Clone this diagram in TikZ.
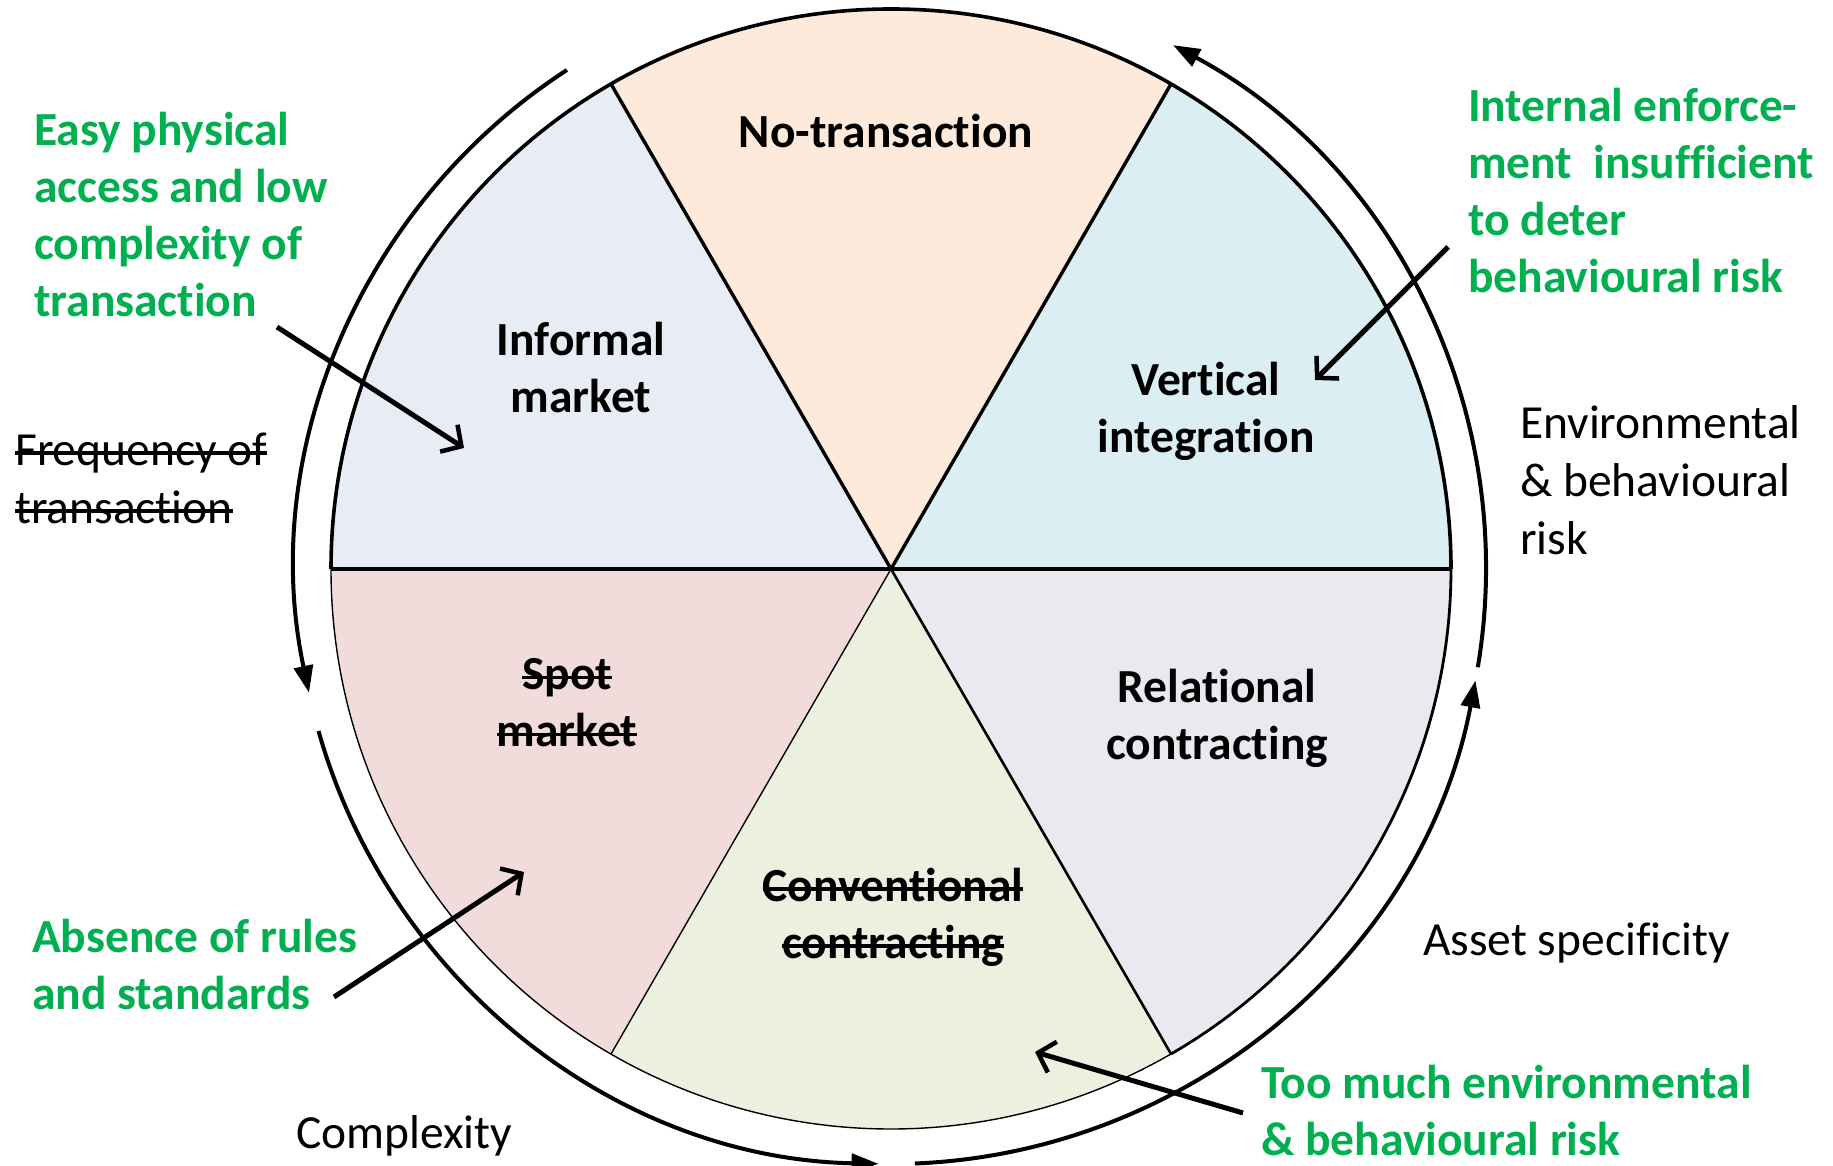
\documentclass[tikz,border=0pt]{standalone}
\usepackage{fontspec}
\setmainfont{Carlito}[Ligatures=NoCommon]
\usetikzlibrary{arrows.meta}
\definecolor{cNo}{HTML}{FDEADA}
\definecolor{cVI}{HTML}{DAEEF3}
\definecolor{cIM}{HTML}{E8EDF5}
\definecolor{cSM}{HTML}{F2DCDB}
\definecolor{cCC}{HTML}{EBF1DE}
\definecolor{cRC}{HTML}{EBE8F0}
\definecolor{grn}{HTML}{00B050}
\newcommand\strk[1]{\setbox0\hbox{#1}\rlap{\rule[0.22em]{\wd0}{0.07em}}\box0}
\begin{document}
\begin{tikzpicture}[x=1pt,y=1pt,
  lbl/.style={font=\fontsize{47.5}{57}\selectfont\bfseries, align=center, inner sep=0pt},
  note/.style={font=\fontsize{47.5}{57}\selectfont\bfseries, text=grn, align=left, inner sep=0pt, anchor=west},
  axis/.style={font=\fontsize{47.5}{58}\selectfont, align=left, inner sep=0pt, anchor=west},
  outarc/.style={line width=4pt, -{Triangle[length=27pt,width=19pt]}},
  pointer/.style={line width=5pt, -{Straight Barb[length=15pt,width=32pt,line width=4.5pt]}}]
\useasboundingbox (0,0) rectangle (1833,1165);
\coordinate (C) at (891,596);
\def\R{560}
\def\Ro{595}
% sectors
\foreach \a/\b/\c in {0/60/cVI,60/120/cNo,120/180/cIM,180/240/cSM,240/300/cCC,300/360/cRC}{
  \fill[\c] (C) -- ++(\a:\R) arc[start angle=\a,end angle=\b,radius=\R] -- cycle;
}
\foreach \a in {0,60,120,180,240,300}{ \path (C) ++(\a:\R) coordinate (p\a); }
% outline
\draw[line width=3.6pt] (p0) arc[start angle=0,end angle=180,radius=\R];
\draw[line width=1.4pt] (p180) arc[start angle=180,end angle=300,radius=\R];
\draw[line width=2.8pt] (p300) arc[start angle=300,end angle=360,radius=\R];
% dividers
\draw[line width=3.6pt] (p180) -- (p0);
\draw[line width=3.4pt] (p120) -- (C);
\draw[line width=3.4pt] (p60) -- (C);
\draw[line width=1.4pt] (p240) -- (C);
\draw[line width=2.6pt] (p300) -- (C);
% outer arcs
\path (C) ++(350.5:\Ro) coordinate (aA);
\path (C) ++(123:\Ro) coordinate (aB);
\path (C) ++(195.8:\Ro) coordinate (aC);
\path (C) ++(272.3:\Ro) coordinate (aD);
\draw[outarc] (aA) arc[start angle=350.5,end angle=421.7,radius=\Ro];
\draw[outarc] (aB) arc[start angle=123,end angle=192,radius=\Ro];
\draw[outarc] (aC) arc[start angle=195.8,end angle=268.8,radius=\Ro];
\draw[outarc] (aD) arc[start angle=272.3,end angle=349.2,radius=\Ro];
% sector labels
\node[lbl] (no) at (886,1034) {No-transaction};
\node[lbl] (im) at (581,797) {Informal\\market};
\node[lbl] (vi) at (1206,754) {Vertical\\integration};
\node[lbl] (rc) at (1217,447) {Relational\\contracting};
\node[lbl] (sm) at (567,462) {\strk{Spot}\\\strk{market}};
\node[lbl] (cc) at (893,248) {\strk{Conventional}\\\strk{contracting}};
% green notes
\node[note] (n1) at (34,950) {Easy physical\\access and low\\complexity of\\transaction};
\node[note] (n2) at (1468,974) {Internal enforce-\\ment\ \ insufficient\\to deter\\behavioural risk};
\node[note] (n3) at (32,200) {Absence of rules\\and standards};
\node[note] (n4) at (1261,54) {Too much environmental\\\& behavioural risk};
% axis labels
\node[axis] (fq) at (15,687) {\strk{Frequency of}\\\strk{transaction}};
\node[axis] (er) at (1520,685) {Environmental\\\& behavioural\\risk};
\node[axis, anchor=base west] (as) at (1423,210) {Asset specificity};
\node[axis, anchor=base west] (cx) at (296,17) {Complexity};
% pointer arrows
\coordinate (s1) at (277,838); \coordinate (t1) at (464,717);
\coordinate (s2) at (1448,918); \coordinate (t2) at (1315,785);
\coordinate (s3) at (334,168); \coordinate (t3) at (524,293);
\coordinate (s4) at (1243,52); \coordinate (t4) at (1035,113);
\draw[pointer] (s1) -- (t1);
\draw[pointer] (s2) -- (t2);
\draw[pointer] (s3) -- (t3);
\draw[pointer] (s4) -- (t4);
\end{tikzpicture}
\end{document}
